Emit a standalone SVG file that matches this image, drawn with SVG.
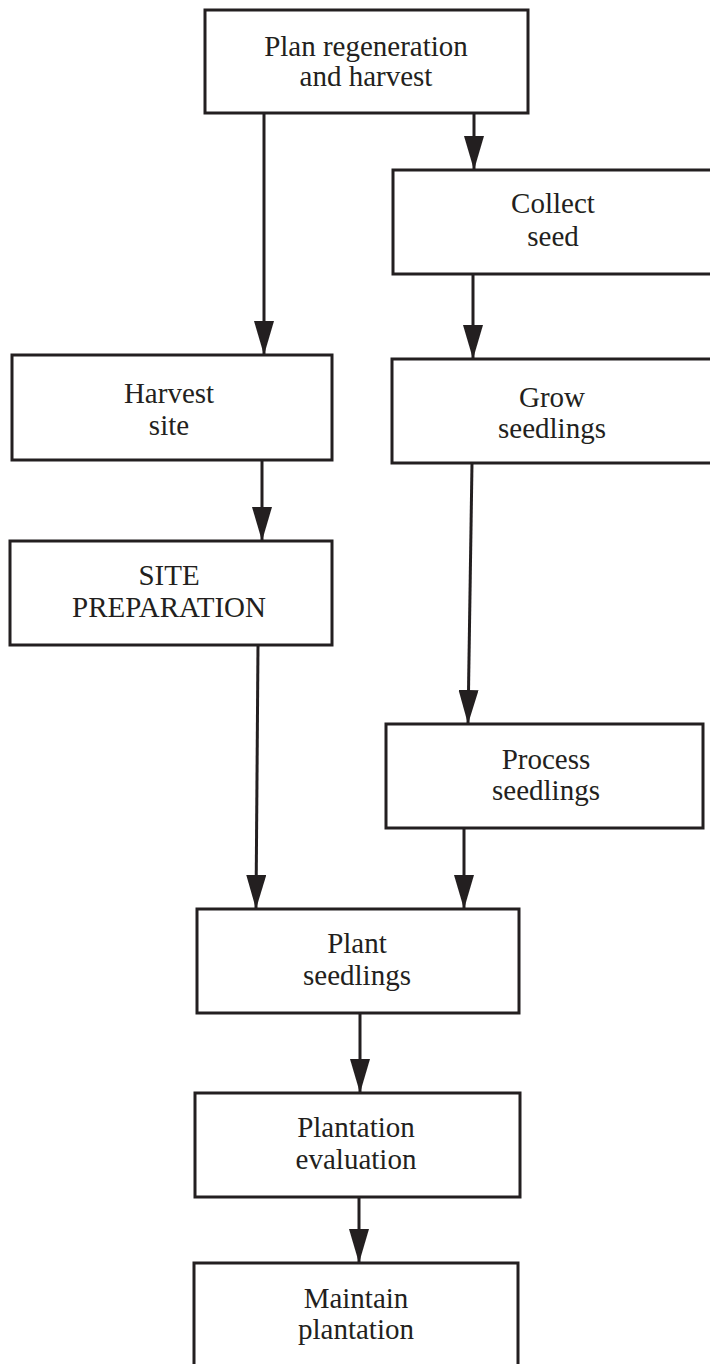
<svg xmlns="http://www.w3.org/2000/svg" width="710" height="1364" viewBox="0 0 710 1364">
<style>
.box{fill:#fff;stroke:#231f20;stroke-width:3}
.lbl{font-family:"Liberation Serif","Times New Roman",serif;font-size:29px;fill:#231f20;text-anchor:middle}
.con{stroke:#231f20;stroke-width:3;fill:none;marker-end:url(#arr)}
</style>
<defs>
<marker id="arr" viewBox="0 0 34 20" refX="34" refY="10" markerWidth="34" markerHeight="20" markerUnits="userSpaceOnUse" orient="auto">
<path d="M0,0 L34,10 L0,20 z" fill="#231f20"/>
</marker>
</defs>
<rect width="710" height="1364" fill="#fff"/>
<g id="connectors">
<line class="con" x1="264" y1="113" x2="264" y2="355"/>
<line class="con" x1="474" y1="113" x2="474" y2="170"/>
<line class="con" x1="473" y1="274" x2="473" y2="359"/>
<line class="con" x1="262" y1="460" x2="262" y2="541"/>
<line class="con" x1="472" y1="463" x2="468" y2="724"/>
<line class="con" x1="258" y1="645" x2="256" y2="909"/>
<line class="con" x1="464" y1="828" x2="464" y2="909"/>
<line class="con" x1="360" y1="1013" x2="360" y2="1093"/>
<line class="con" x1="359" y1="1197" x2="359" y2="1263"/>
</g>
<g id="plan">
<rect class="box" x="205" y="10" width="323" height="103"/>
<text class="lbl" x="366" y="56">Plan regeneration</text>
<text class="lbl" x="366" y="86">and harvest</text>
</g>
<g id="collect">
<rect class="box" x="393" y="170" width="330" height="104"/>
<text class="lbl" x="553" y="213">Collect</text>
<text class="lbl" x="553" y="246">seed</text>
</g>
<g id="grow">
<rect class="box" x="392" y="359" width="330" height="104"/>
<text class="lbl" x="552" y="407">Grow</text>
<text class="lbl" x="552" y="438">seedlings</text>
</g>
<g id="harvest">
<rect class="box" x="12" y="355" width="320" height="105"/>
<text class="lbl" x="169" y="403">Harvest</text>
<text class="lbl" x="169" y="435">site</text>
</g>
<g id="site">
<rect class="box" x="10" y="541" width="322" height="104"/>
<text class="lbl" x="169" y="585">SITE</text>
<text class="lbl" x="169" y="617">PREPARATION</text>
</g>
<g id="process">
<rect class="box" x="386" y="724" width="317" height="104"/>
<text class="lbl" x="546" y="769">Process</text>
<text class="lbl" x="546" y="800">seedlings</text>
</g>
<g id="plant">
<rect class="box" x="197" y="909" width="322" height="104"/>
<text class="lbl" x="357" y="953">Plant</text>
<text class="lbl" x="357" y="985">seedlings</text>
</g>
<g id="evaluation">
<rect class="box" x="195" y="1093" width="325" height="104"/>
<text class="lbl" x="356" y="1137">Plantation</text>
<text class="lbl" x="356" y="1169">evaluation</text>
</g>
<g id="maintain">
<rect class="box" x="194" y="1263" width="324" height="130"/>
<text class="lbl" x="356" y="1308">Maintain</text>
<text class="lbl" x="356" y="1339">plantation</text>
</g>
</svg>
